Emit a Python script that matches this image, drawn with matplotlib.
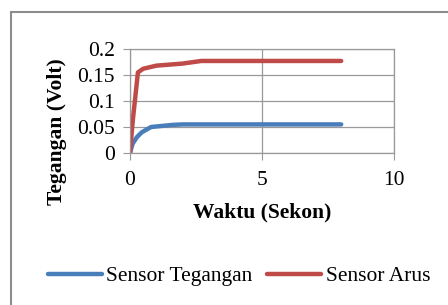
import matplotlib
matplotlib.use("Agg")
import matplotlib.pyplot as plt
from matplotlib.patches import Rectangle

t_teg = [0, 0.1, 0.27, 0.45, 0.8, 1.2, 1.6, 2.0, 3.0, 5.0, 8.0]
v_teg = [0, 0.018, 0.031, 0.040, 0.050, 0.052, 0.054, 0.055, 0.055, 0.055, 0.055]
t_arus = [0, 0.1, 0.3, 0.5, 1.0, 2.0, 2.7, 4.0, 6.0, 8.0]
v_arus = [0, 0.06, 0.155, 0.162, 0.168, 0.172, 0.177, 0.177, 0.177, 0.177]
xticks = [0, 5, 10]
yticks = [0, 0.05, 0.1, 0.15, 0.2]
ytick_labels = ["0", "0.05", "0.1", "0.15", "0.2"]

W, H = 448, 305
fig = plt.figure(figsize=(W/100, H/100), dpi=100)
fig.patch.set_facecolor("white")
plt.rcParams["font.family"] = ["Liberation Serif", "DejaVu Serif"]
FS = 15.5

# outer frame
fig.patches.append(Rectangle((11/W, -0.1), 1.2, (H-12)/H + 0.1, transform=fig.transFigure,
                             fill=False, edgecolor="#8c8c8c", linewidth=1.5))

ax = fig.add_axes([130/W, 1-153/H, (394-130)/W, (153-49)/H])
ax.plot(t_teg, v_teg, color="#4a7ebb", lw=3.2, solid_capstyle="round", label="Sensor Tegangan")
ax.plot(t_arus, v_arus, color="#be4b48", lw=3.2, solid_capstyle="round", label="Sensor Arus")
ax.set_xlim(0, 10)
ax.set_ylim(0, 0.2)
ax.set_xticks(xticks)
ax.set_yticks(yticks)
ax.set_yticklabels(ytick_labels)
ax.grid(True, color="#999999", lw=0.9)
ax.set_axisbelow(True)
for s in ax.spines.values():
    s.set_color("#999999")
    s.set_linewidth(0.9)
ax.tick_params(length=5, color="#999999", labelsize=FS)
ax.tick_params(axis="y", pad=6)
ax.tick_params(axis="x", pad=8)
ax.set_xlabel("Waktu (Sekon)", fontsize=FS, fontweight="bold", va="center")
ax.set_ylabel("Tegangan (Volt)", fontsize=FS, fontweight="bold", va="center")
ax.xaxis.set_label_coords((262-130)/264, (153-212)/104)
ax.yaxis.set_label_coords((57-130)/264, (153-132)/104)

fig.legend(handles=ax.get_lines(), loc="center", bbox_to_anchor=(239/W, 1-276/H),
           ncol=2, frameon=False, fontsize=FS, handlelength=2.5, handletextpad=0.2,
           columnspacing=0.7, borderpad=0, borderaxespad=0)

fig.savefig("out.png", dpi=100)
